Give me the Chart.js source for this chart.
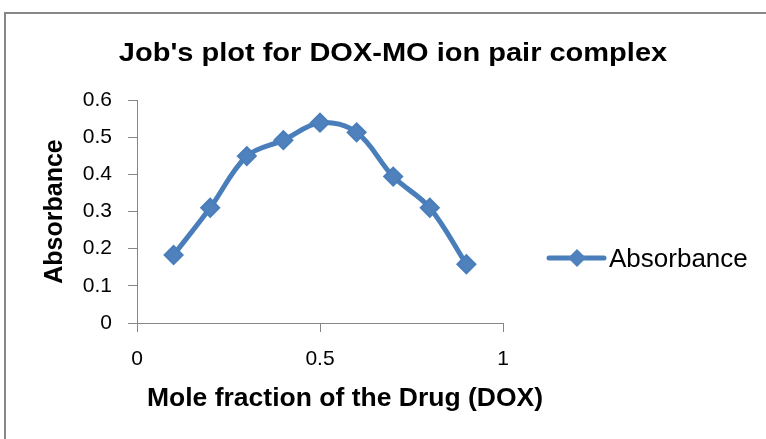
<!DOCTYPE html>
<html lang="en">
<head>
    <meta charset="UTF-8">
    <title>Job's plot</title>
    <script src="https://cdn.jsdelivr.net/npm/chart.js"></script>
</head>
<style>
    body { margin: 0; background: #fff; }
    .chart-container {
        position: relative;
        width: 766px;
        height: 439px;
        overflow: hidden;
    }
    .frame {
        position: absolute;
        left: 4px;
        top: 12px;
        width: 900px;
        height: 600px;
        border: 2px solid #878787;
    }
</style>
<body>
    <div class="chart-container">
        <div class="frame"></div>
        <canvas id="jobChart" width="766" height="439" style="position:absolute;left:0;top:0"></canvas>
    </div>

    <script>
        // data
        const moleFraction = [0.1, 0.2, 0.3, 0.4, 0.5, 0.6, 0.7, 0.8, 0.9];
        const absorbance = [0.183, 0.310, 0.449, 0.492, 0.539, 0.513, 0.394, 0.310, 0.158];
        const seriesName = 'Absorbance';
        const chartTitle = "Job's plot for DOX-MO ion pair complex";
        const xTitle = 'Mole fraction of the Drug (DOX)';
        const yTitle = 'Absorbance';
        const xTicks = [0, 0.5, 1];
        const yTicks = [0, 0.1, 0.2, 0.3, 0.4, 0.5, 0.6];

        const blue = '#4A7EBB';
        const axisGrey = '#868686';
        const fontName = '"Liberation Sans", Arial, sans-serif';

        function stretchedText(ctx, text, x, y, font, sx) {
            ctx.save();
            ctx.font = font;
            ctx.fillStyle = '#000';
            ctx.textAlign = 'center';
            ctx.textBaseline = 'alphabetic';
            ctx.translate(x, y);
            ctx.scale(sx, 1);
            ctx.fillText(text, 0, 0);
            ctx.restore();
        }

        // title, x axis title and legend placed the way the original sits
        const textPlugin = {
            id: 'textPlugin',
            afterDraw(chart) {
                const ctx = chart.ctx;
                stretchedText(ctx, chartTitle, 393, 61, 'bold 25px ' + fontName, 1.16);
                stretchedText(ctx, xTitle, 345, 406, 'bold 25px ' + fontName, 1.06);

                // legend
                ctx.save();
                ctx.strokeStyle = blue;
                ctx.lineWidth = 5;
                ctx.lineCap = 'round';
                ctx.beginPath();
                ctx.moveTo(549, 258);
                ctx.lineTo(604, 258);
                ctx.stroke();
                ctx.fillStyle = '#4F81BD';
                ctx.beginPath();
                ctx.moveTo(577, 249);
                ctx.lineTo(586, 258);
                ctx.lineTo(577, 267);
                ctx.lineTo(568, 258);
                ctx.closePath();
                ctx.fill();
                ctx.font = '26px ' + fontName;
                ctx.fillStyle = '#000';
                ctx.textBaseline = 'alphabetic';
                ctx.fillText(seriesName, 609, 267);
                ctx.restore();
            }
        };

        const points = moleFraction.map((x, i) => ({ x: x, y: absorbance[i] }));

        const ctx = document.getElementById('jobChart').getContext('2d');
        new Chart(ctx, {
            type: 'line',
            data: {
                datasets: [{
                    label: seriesName,
                    data: points,
                    borderColor: blue,
                    borderWidth: 5,
                    backgroundColor: '#4F81BD',
                    pointStyle: 'rectRot',
                    pointRadius: 9,
                    pointBorderWidth: 2,
                    pointBorderColor: blue,
                    pointBackgroundColor: '#4F81BD',
                    tension: 0.35,
                    fill: false
                }]
            },
            options: {
                responsive: false,
                animation: false,
                layout: { padding: { top: 100, right: 263, bottom: 0, left: 0 } },
                plugins: {
                    legend: { display: false },
                    tooltip: { enabled: false }
                },
                scales: {
                    x: {
                        type: 'linear',
                        min: 0,
                        max: 1,
                        afterBuildTicks(scale) {
                            scale.ticks = xTicks.map(v => ({ value: v }));
                        },
                        afterFit(scale) { scale.height = 116; },
                        grid: { drawOnChartArea: false, tickLength: 9, color: axisGrey },
                        border: { color: axisGrey, width: 1 },
                        ticks: {
                            color: '#000',
                            padding: 15,
                            maxRotation: 0,
                            font: { family: fontName, size: 21 },
                            callback: v => String(Math.round(v * 10) / 10)
                        }
                    },
                    y: {
                        min: 0,
                        max: 0.6,
                        afterBuildTicks(scale) {
                            scale.ticks = yTicks.map(v => ({ value: v }));
                        },
                        afterFit(scale) { scale.width = 137; },
                        grid: { drawOnChartArea: false, tickLength: 9, color: axisGrey },
                        border: { color: axisGrey, width: 1 },
                        ticks: {
                            color: '#000',
                            padding: 16,
                            font: { family: fontName, size: 21 },
                            callback: v => String(Math.round(v * 10) / 10)
                        },
                        title: {
                            display: true,
                            text: yTitle,
                            color: '#000',
                            padding: { top: 40 },
                            font: { family: fontName, size: 25, weight: 'bold' }
                        }
                    }
                }
            },
            plugins: [textPlugin]
        });
    </script>
</body>
</html>
